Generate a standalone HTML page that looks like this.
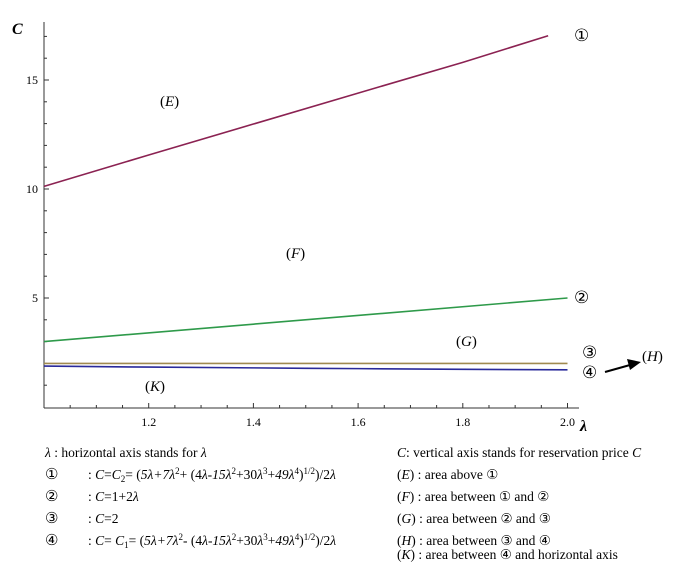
<!DOCTYPE html>
<html><head><meta charset="utf-8"><style>
body{margin:0;background:#fff;}
svg text{font-family:"Liberation Serif",serif;}
</style></head><body>
<svg width="674" height="570" viewBox="0 0 674 570" xmlns="http://www.w3.org/2000/svg">
<g id="axes"></g>
<g id="series"></g>
<g font-size="15">
<text x="12" y="34" font-weight="bold" font-style="italic" font-size="16">C</text>
<text x="580" y="431" font-weight="bold" font-style="italic" font-size="16">λ</text>
<text x="574" y="41" font-size="17">①</text>
<text x="574" y="303" font-size="17">②</text>
<text x="582" y="358" font-size="17">③</text>
<text x="582" y="378" font-size="17">④</text>
<text x="160" y="106">(<tspan font-style="italic">E</tspan>)</text>
<text x="286" y="258">(<tspan font-style="italic">F</tspan>)</text>
<text x="456" y="346">(<tspan font-style="italic">G</tspan>)</text>
<text x="642" y="361">(<tspan font-style="italic">H</tspan>)</text>
<text x="145" y="391">(<tspan font-style="italic">K</tspan>)</text>
<line x1="605" y1="372" x2="630" y2="365" stroke="#000" stroke-width="2"/>
<polygon points="641,362 627,359 630,370" fill="#000"/>
</g>
<g font-size="13.5">
<text x="45" y="457"><tspan font-style="italic">λ</tspan> : horizontal axis stands for <tspan font-style="italic">λ</tspan></text>
<text x="45" y="479" font-size="15">①</text>
<text x="88" y="479">: <tspan font-style="italic">C</tspan>=<tspan font-style="italic">C</tspan><tspan font-size="9" dy="3">2</tspan><tspan dy="-3">= (</tspan><tspan font-style="italic">5λ+7λ</tspan><tspan font-size="9" dy="-5">2</tspan><tspan dy="5">+ (4</tspan><tspan font-style="italic">λ-15λ</tspan><tspan font-size="9" dy="-5">2</tspan><tspan dy="5">+30</tspan><tspan font-style="italic">λ</tspan><tspan font-size="9" dy="-5">3</tspan><tspan dy="5">+</tspan><tspan font-style="italic">49λ</tspan><tspan font-size="9" dy="-5">4</tspan><tspan dy="5">)</tspan><tspan font-size="9" dy="-5">1/2</tspan><tspan dy="5">)/2</tspan><tspan font-style="italic">λ</tspan></text>
<text x="45" y="501" font-size="15">②</text>
<text x="88" y="501">: <tspan font-style="italic">C</tspan>=1+2<tspan font-style="italic">λ</tspan></text>
<text x="45" y="523" font-size="15">③</text>
<text x="88" y="523">: <tspan font-style="italic">C</tspan>=2</text>
<text x="45" y="545" font-size="15">④</text>
<text x="88" y="545">: <tspan font-style="italic">C</tspan>= <tspan font-style="italic">C</tspan><tspan font-size="9" dy="3">1</tspan><tspan dy="-3">= (</tspan><tspan font-style="italic">5λ+7λ</tspan><tspan font-size="9" dy="-5">2</tspan><tspan dy="5">- (4</tspan><tspan font-style="italic">λ-15λ</tspan><tspan font-size="9" dy="-5">2</tspan><tspan dy="5">+30</tspan><tspan font-style="italic">λ</tspan><tspan font-size="9" dy="-5">3</tspan><tspan dy="5">+</tspan><tspan font-style="italic">49λ</tspan><tspan font-size="9" dy="-5">4</tspan><tspan dy="5">)</tspan><tspan font-size="9" dy="-5">1/2</tspan><tspan dy="5">)/2</tspan><tspan font-style="italic">λ</tspan></text>
<text x="397" y="457"><tspan font-style="italic">C</tspan>: vertical axis stands for reservation price <tspan font-style="italic">C</tspan></text>
<text x="397" y="479">(<tspan font-style="italic">E</tspan>) : area above ①</text>
<text x="397" y="501">(<tspan font-style="italic">F</tspan>) : area between ① and ②</text>
<text x="397" y="523">(<tspan font-style="italic">G</tspan>) : area between ② and ③</text>
<text x="397" y="545">(<tspan font-style="italic">H</tspan>) : area between ③ and ④</text>
<text x="397" y="559">(<tspan font-style="italic">K</tspan>) : area between ④ and horizontal axis</text>
</g>
</svg>
<script>
const xTicks=[1.2,1.4,1.6,1.8,2.0];
const xTickLabels=["1.2","1.4","1.6","1.8","2.0"];
const yTicks=[5,10,15];
const yTickLabels=["5","10","15"];
const lam1=[1.0,1.2,1.4,1.6,1.8,1.963];
const c2=[10.12,11.56,12.98,14.40,15.81,17.03];
const lam2=[1.0,2.0];
const line2=[3,5];
const lam3=[1.0,2.0];
const line3=[2,2];
const lam4=[1.0,1.2,1.4,1.5,1.6,1.8,2.0];
const c1=[1.877,1.830,1.795,1.773,1.760,1.730,1.705];

const NS="http://www.w3.org/2000/svg";
const X=v=>44+(v-1)*523.5;
const Y=v=>407-v*21.8;
function mk(tag,attrs,parent){const e=document.createElementNS(NS,tag);for(const k in attrs)e.setAttribute(k,attrs[k]);parent.appendChild(e);return e;}
const ax=document.getElementById('axes');
let a=mk('line',{x1:44,y1:408,x2:579,y2:408,stroke:'#333','stroke-width':1},ax);


a=mk('line',{x1:44,y1:22,x2:44,y2:408,stroke:'#333','stroke-width':1},ax);


for(let i=1;i<=20;i++){const v=1+i*0.05;
 const t=mk('line',{x1:X(v),y1:408,x2:X(v),y2:408-(i%4===0?5:3),stroke:'#333'},ax);
 
 }
xTicks.forEach((v,i)=>{const t=mk('text',{x:X(v),y:426,'text-anchor':'middle','font-size':12},ax);t.textContent=xTickLabels[i];
 
 });
for(let v=1;v<=17;v++){const t=mk('line',{x1:44,y1:Y(v),x2:44+(v%5===0?5:3),y2:Y(v),stroke:'#333'},ax);
 
 }
yTicks.forEach((v,i)=>{const t=mk('text',{x:38,y:Y(v)+4,'text-anchor':'end','font-size':12},ax);t.textContent=yTickLabels[i];
 
 });
const sg=document.getElementById('series');
function line(xs,ys,color,name){const p=mk('polyline',{points:xs.map((x,i)=>X(x)+','+Y(ys[i])).join(' '),fill:'none',stroke:color,'stroke-width':1.6},sg);
 
 }
line(lam1,c2,'#8b2252','line-1-c2');
line(lam2,line2,'#2e9a4a','line-2');
line(lam3,line3,'#a08a50','line-3');
line(lam4,c1,'#2a2a9a','line-4-c1');
</script>
</body></html>
